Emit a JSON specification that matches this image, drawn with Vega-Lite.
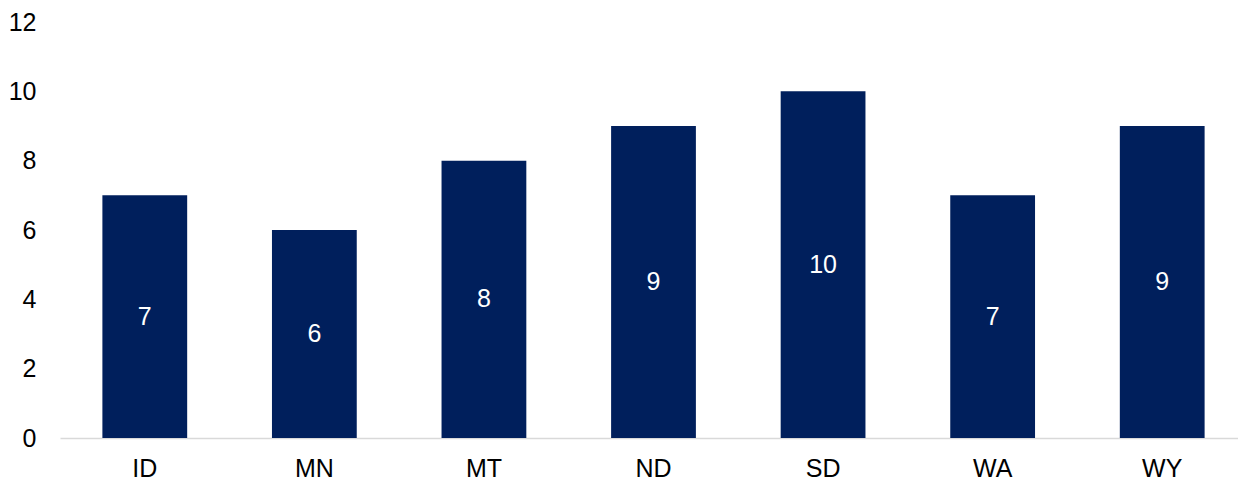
{
  "$schema": "https://vega.github.io/schema/vega-lite/v6.json",
  "width": 1187,
  "height": 416,
  "padding": {"left": 8, "top": 10, "right": 0, "bottom": 0},
  "autosize": {"type": "pad"},
  "background": "white",
  "config": {
    "view": {"stroke": null},
    "font": "Liberation Sans"
  },
  "data": {
    "values": [
      {"state": "ID", "value": 7},
      {"state": "MN", "value": 6},
      {"state": "MT", "value": 8},
      {"state": "ND", "value": 9},
      {"state": "SD", "value": 10},
      {"state": "WA", "value": 7},
      {"state": "WY", "value": 9}
    ]
  },
  "encoding": {
    "x": {
      "field": "state",
      "type": "nominal",
      "sort": null,
      "scale": {"paddingInner": 0.5, "paddingOuter": 0.25},
      "axis": {
        "title": null,
        "labelAngle": 0,
        "labelFontSize": 25,
        "labelColor": "#000000",
        "labelPadding": 18,
        "ticks": false,
        "domainColor": "#d9d9d9",
        "domainWidth": 1.5
      }
    }
  },
  "layer": [
    {
      "mark": {"type": "bar", "color": "#001F5C"},
      "encoding": {
        "y": {
          "field": "value",
          "type": "quantitative",
          "scale": {"domain": [0, 12], "nice": false},
          "axis": {
            "title": null,
            "values": [0, 2, 4, 6, 8, 10, 12],
            "grid": false,
            "domain": false,
            "ticks": false,
            "labelFontSize": 25,
            "labelColor": "#000000",
            "labelPadding": 24
          }
        }
      }
    },
    {
      "mark": {"type": "text", "color": "white", "fontSize": 25, "baseline": "middle"},
      "encoding": {
        "y": {
          "field": "value",
          "type": "quantitative",
          "scale": {"domain": [0, 24], "nice": false},
          "axis": null
        },
        "text": {"field": "value", "type": "quantitative"}
      }
    }
  ],
  "resolve": {"scale": {"y": "independent"}}
}
